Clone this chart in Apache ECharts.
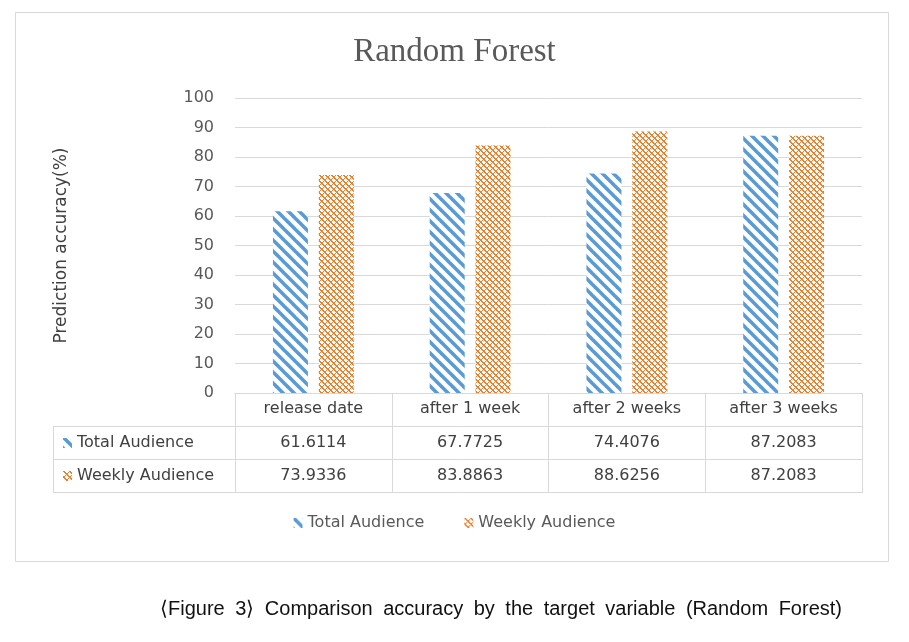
<!DOCTYPE html>
<html><head><meta charset="utf-8">
<script src="https://cdn.jsdelivr.net/npm/echarts@6/dist/echarts.min.js"></script>
<style>
html,body{margin:0;padding:0;background:#fff;}
#c{width:909px;height:642px;position:absolute;left:0;top:0;}
#cap{position:absolute;left:160px;width:682px;top:596px;font-family:"Liberation Sans",Arial,sans-serif;font-size:20px;color:#111;text-align:justify;text-align-last:justify;white-space:nowrap;letter-spacing:0;}
</style>
</head><body>
<div id="c"></div>
<div id="cap">⟨Figure&nbsp;3⟩ Comparison accuracy by the target variable (Random Forest)</div>
<script>
var categories = ['release date', 'after 1 week', 'after 2 weeks', 'after 3 weeks'];
var totalAudience = [61.6114, 67.7725, 74.4076, 87.2083];
var weeklyAudience = [73.9336, 83.8863, 88.6256, 87.2083];
var seriesNames = ['Total Audience', 'Weekly Audience'];
var yTicks = {min: 0, max: 100, interval: 10};

function stripePattern() {
  var c = document.createElement('canvas');
  c.width = 11; c.height = 11;
  var g = c.getContext('2d');
  g.fillStyle = '#fff'; g.fillRect(0, 0, 11, 11);
  g.strokeStyle = '#5b9bd5'; g.lineWidth = 3.6;
  for (var k = -11; k <= 11; k += 11) {
    g.beginPath(); g.moveTo(k - 2, -2); g.lineTo(k + 13, 13); g.stroke();
  }
  return c;
}
function dotPattern() {
  var c = document.createElement('canvas');
  c.width = 6; c.height = 6;
  var g = c.getContext('2d');
  g.fillStyle = '#fff'; g.fillRect(0, 0, 6, 6);
  g.fillStyle = '#ed7d31';
  for (var x = 0; x < 6; x++) for (var y = 0; y < 6; y++) {
    var a = ((x - y) % 6 + 6) % 6, b = (x + y) % 6;
    if (a === 0 || b === 0 || (a === 1 && b % 2 === 1)) g.fillRect(x, y, 1, 1);
  }
  return c;
}
var bluePat = {image: stripePattern(), repeat: 'repeat'};
var orangePat = {image: dotPattern(), repeat: 'repeat'};

var GL = 235, GR = 862, GT = 98, GB = 393, ROW = 33;
var chart = echarts.init(document.getElementById('c'));
var txt = '#404040';
var font = '"DejaVu Sans","Noto Sans",sans-serif';

var option = {
  animation: false,
  backgroundColor: '#fff',
  title: {
    text: 'Random Forest', left: 'center', top: 31,
    textStyle: {fontFamily: '"Liberation Serif","Times New Roman",serif', fontSize: 33, fontWeight: 'normal', color: '#595959'}
  },
  legend: {
    bottom: 642 - 536, left: 'center', itemWidth: 9, itemHeight: 10, itemGap: 40,
    textStyle: {fontFamily: font, fontSize: 16, color: '#595959'},
    data: [
      {name: seriesNames[0], icon: 'rect', itemStyle: {color: bluePat}},
      {name: seriesNames[1], icon: 'rect', itemStyle: {color: orangePat}}
    ]
  },
  grid: {left: GL, right: 909 - GR, top: GT, bottom: 642 - GB, containLabel: false},
  xAxis: {
    type: 'category', data: categories,
    axisLine: {lineStyle: {color: '#d9d9d9', width: 1}},
    axisTick: {show: true, length: ROW * 3 + 1, lineStyle: {color: '#d9d9d9'}},
    axisLabel: {fontFamily: font, fontSize: 16, color: txt, margin: 8}
  },
  yAxis: {
    type: 'value', min: yTicks.min, max: yTicks.max, interval: yTicks.interval,
    name: 'Prediction accuracy(%)', nameLocation: 'middle', nameGap: 165, nameRotate: 90,
    nameTextStyle: {fontFamily: font, fontSize: 17, color: txt},
    axisLine: {show: false}, axisTick: {show: false},
    axisLabel: {fontFamily: font, fontSize: 16, color: '#595959', margin: 21},
    splitLine: {lineStyle: {color: '#d9d9d9', width: 1}}
  },
  series: [
    {name: seriesNames[0], type: 'bar', data: totalAudience, barWidth: 35, barGap: '31%',
     itemStyle: {color: bluePat}},
    {name: seriesNames[1], type: 'bar', data: weeklyAudience, barWidth: 35,
     itemStyle: {color: orangePat}}
  ]
};
chart.setOption(option);

// data table below the axis
var els = [];
var L0 = 53, lineCol = '#d9d9d9';
function hline(y, x1, x2) { els.push({type: 'line', silent: true, shape: {x1: x1, y1: y, x2: x2, y2: y}, style: {stroke: lineCol, lineWidth: 1}}); }
function vline(x, y1, y2) { els.push({type: 'line', silent: true, shape: {x1: x, y1: y1, x2: x, y2: y2}, style: {stroke: lineCol, lineWidth: 1}}); }
hline(GB + ROW + 0.5, L0, GR + 0.5);
hline(GB + ROW * 2 + 0.5, L0, GR + 0.5);
hline(GB + ROW * 3 + 0.5, L0, GR + 0.5);
vline(L0 + 0.5, GB + ROW, GB + ROW * 3 + 1);
var rows = [totalAudience, weeklyAudience];
var pats = [bluePat, orangePat];
rows.forEach(function(vals, r) {
  var cy = GB + ROW * (r + 1) + ROW / 2 + 0.5;
  els.push({type: 'rect', silent: true, shape: {x: 63, y: cy - 5, width: 9, height: 10}, style: {fill: pats[r]}});
  els.push({type: 'text', silent: true, style: {x: 77, y: cy, text: seriesNames[r], fontFamily: font, fontSize: 16, fill: txt, verticalAlign: 'middle'}});
  vals.forEach(function(v, i) {
    var px = chart.convertToPixel({xAxisIndex: 0}, categories[i]);
    els.push({type: 'text', silent: true, style: {x: px, y: cy, text: v.toFixed(4), fontFamily: font, fontSize: 16, fill: txt, align: 'center', verticalAlign: 'middle'}});
  });
});
// outer chart border
els.push({type: 'rect', silent: true, shape: {x: 15.5, y: 12.5, width: 873, height: 549}, style: {fill: 'none', stroke: lineCol, lineWidth: 1}});
chart.setOption({graphic: {elements: els}});
</script>
</body></html>
